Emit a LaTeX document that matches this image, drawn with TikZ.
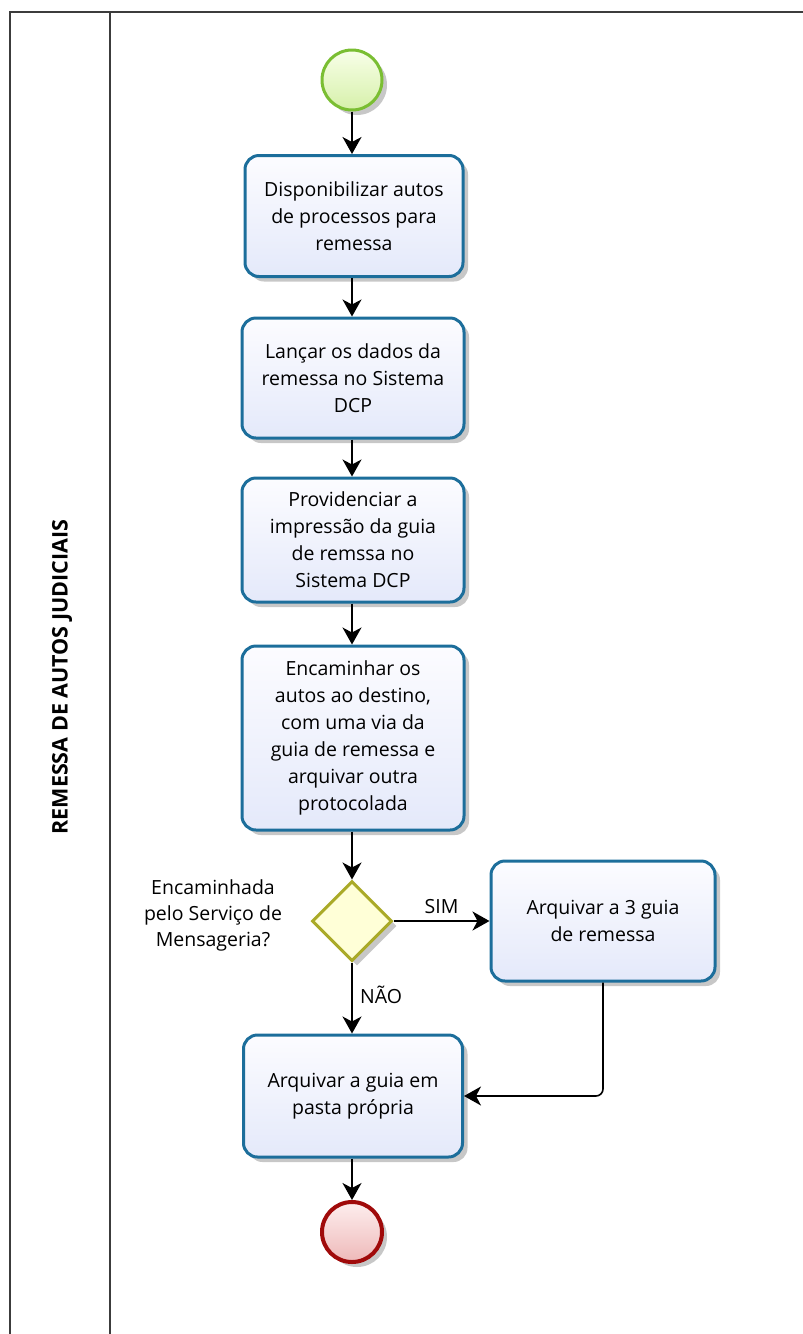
\documentclass[tikz,border=0pt]{standalone}
\usepackage{fontspec}
\setmainfont{Open Sans}
\usetikzlibrary{arrows.meta,shapes.geometric,shadows}
\definecolor{taskline}{RGB}{28,110,155}
\definecolor{tasktop}{RGB}{252,252,255}
\definecolor{taskbot}{RGB}{228,233,250}
\definecolor{startline}{RGB}{122,190,50}
\definecolor{starttop}{RGB}{248,255,232}
\definecolor{startbot}{RGB}{214,240,170}
\definecolor{endline}{RGB}{160,10,10}
\definecolor{endtop}{RGB}{253,238,238}
\definecolor{endbot}{RGB}{238,185,185}
\definecolor{gwline}{RGB}{170,170,40}
\definecolor{gwfill}{RGB}{255,255,215}
\definecolor{laneline}{RGB}{60,60,60}
\tikzset{
  shade/.style={drop shadow={shadow xshift=5pt,shadow yshift=-5pt,opacity=.22,fill=black}},
  taskbox/.style={shade,draw=taskline,line width=3pt,rounded corners=14pt,
    top color=tasktop,bottom color=taskbot,align=center,inner sep=0pt,
    font=\fontsize{19.5}{27}\selectfont,text=black},
  startev/.style={shade,circle,draw=startline,line width=3pt,minimum size=60pt,inner sep=0pt,
    top color=starttop,bottom color=startbot},
  endev/.style={shade,circle,draw=endline,line width=4pt,minimum size=60pt,inner sep=0pt,
    top color=endtop,bottom color=endbot},
  gateway/.style={shade,diamond,draw=gwline,line width=3pt,fill=gwfill,minimum width=80pt,
    minimum height=80pt,inner sep=0pt},
  flow/.style={draw=black,line width=1.6pt,-{Stealth[length=17pt,width=19pt,inset=5pt]}},
  lbl/.style={font=\fontsize{19.5}{26}\selectfont,align=center,text=black},
  lane/.style={draw=laneline,line width=2.2pt}
}
\begin{document}
\begin{tikzpicture}[x=1pt,y=-1pt]
\useasboundingbox (0,0) rectangle (803,1334);
% pool / lane
\draw[lane] (803,12) -- (10,12) -- (10,1340);
\draw[lane] (110,12) -- (110,1340);
\node[rotate=90,font=\fontsize{21.5}{24}\selectfont\bfseries] (lanename) at (62,677) {REMESSA DE AUTOS JUDICIAIS};
% nodes
\node[startev] (start) at (352,80) {};
\node[taskbox,minimum width=218pt,minimum height=121pt] (t1) at (354,216) {Disponibilizar autos\\de processos para\\remessa};
\node[taskbox,minimum width=222pt,minimum height=120pt] (t2) at (353,378) {Lançar os dados da\\remessa no Sistema\\DCP};
\node[taskbox,minimum width=222pt,minimum height=124pt] (t3) at (353,540) {Providenciar a\\impressão da guia\\de remssa no\\Sistema DCP};
\node[taskbox,minimum width=222pt,minimum height=184pt] (t4) at (353,738) {Encaminhar os\\autos ao destino,\\com uma via da\\guia de remessa e\\arquivar outra\\protocolada};
\node[gateway] (gw) at (352,921) {};
\node[lbl] (gwlabel) at (213,915) {Encaminhada\\pelo Serviço de\\Mensageria?};
\node[taskbox,minimum width=224pt,minimum height=120pt] (t5) at (603,921) {Arquivar a 3 guia\\de remessa};
\node[taskbox,minimum width=219pt,minimum height=122pt] (t6) at (353,1096) {Arquivar a guia em\\pasta própria};
\node[endev] (end) at (352,1232) {};
% flows
\draw[flow] (start) -- (start |- t1.north);
\draw[flow] (start |- t1.south) -- (start |- t2.north);
\draw[flow] (start |- t2.south) -- (start |- t3.north);
\draw[flow] (start |- t3.south) -- (start |- t4.north);
\draw[flow] (start |- t4.south) -- (gw.north);
\draw[flow] (gw.east) -- node[lbl,above=3pt] (sim) {SIM} (t5.west);
\draw[flow] (gw.south) -- node[lbl,right=4pt,pos=0.45] (nao) {NÃO} (start |- t6.north);
\draw[flow,rounded corners=7pt] (t5.south) |- (t6.east);
\draw[flow] (start |- t6.south) -- (end.north);
\end{tikzpicture}
\end{document}
